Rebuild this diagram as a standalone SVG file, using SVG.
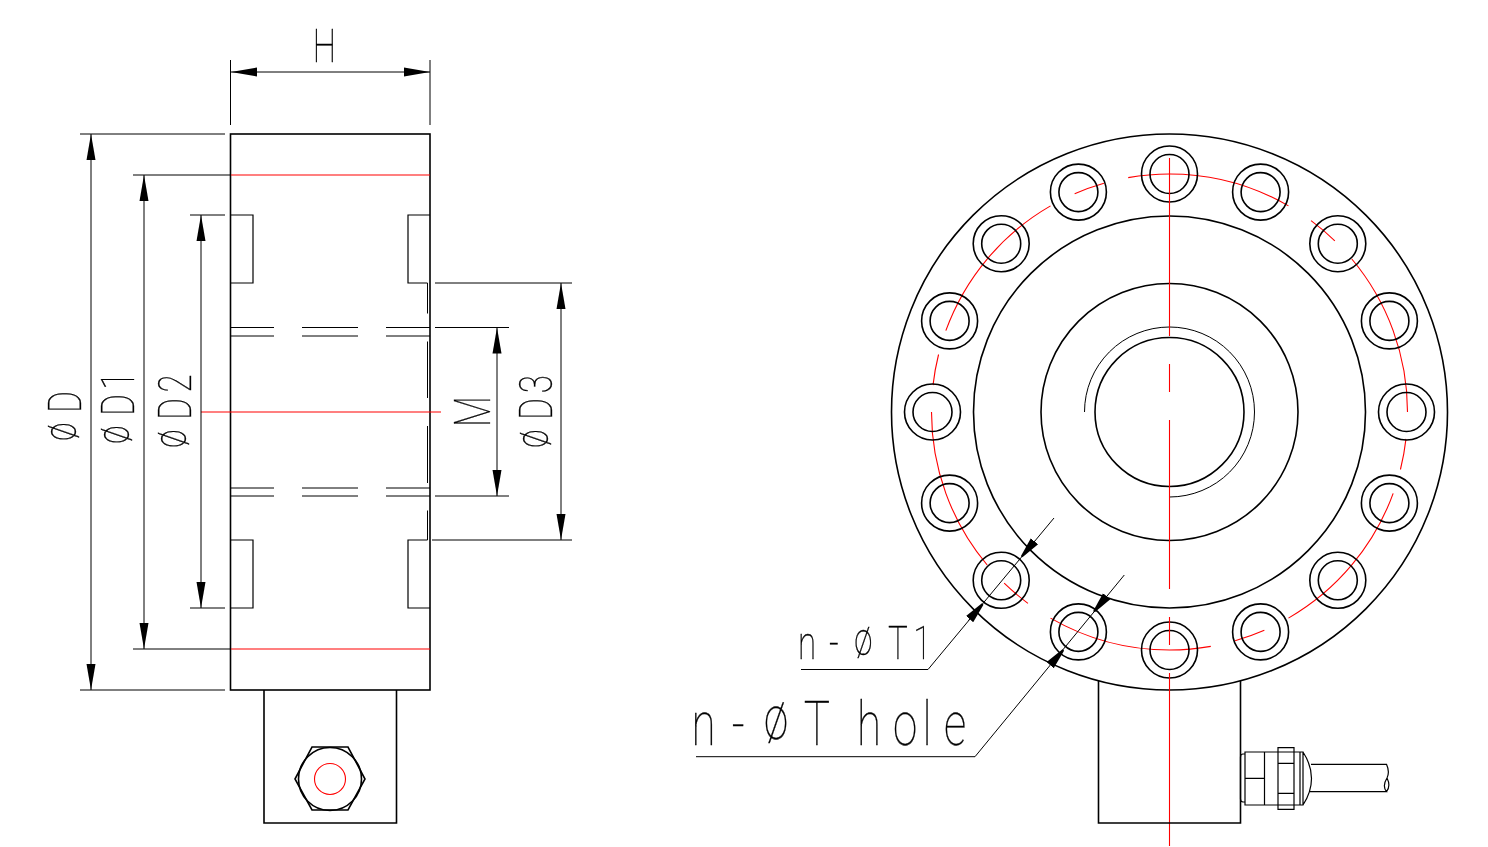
<svg xmlns="http://www.w3.org/2000/svg" width="1488" height="847" viewBox="0 0 1488 847">
<style>
.o{fill:none;stroke:#000;stroke-width:1.6}
.n{fill:none;stroke:#000;stroke-width:1.2}
.t{fill:none;stroke:#000;stroke-width:1}
.r{fill:none;stroke:#f00;stroke-width:1.1}
.d{fill:none;stroke:#000;stroke-width:1;marker-start:url(#a);marker-end:url(#a)}
.l{fill:none;stroke:#000;stroke-width:1}
.x{fill:none;stroke:#000;stroke-width:1;marker-end:url(#b)}
text{font-family:Roboto,"Liberation Sans",sans-serif;font-weight:100;fill:#000;stroke:#000;stroke-width:.35}
</style>
<defs>
<marker id="a" markerUnits="userSpaceOnUse" markerWidth="28" markerHeight="10" refX="26" refY="5" orient="auto-start-reverse" viewBox="0 0 28 10"><path d="M0 .5 L26 5 L0 9.500Z"/></marker>
<marker id="b" markerUnits="userSpaceOnUse" markerWidth="22" markerHeight="12" refX="20" refY="6" orient="auto" viewBox="0 0 22 12"><path d="M0 1.300 L0 10.700 L20 7 L20 5Z"/></marker>
<g id="hole"><circle r="28" class="o"/><circle r="19.500" class="o"/></g>
</defs>
<g id="side-view">
<rect x="230.500" y="134" width="199.500" height="556" class="o"/>
<path class="r" d="M231 175H430M231 649H430M201 412H441"/>
<path class="n" d="M231 215H253V283H231M231 540H253V608H231M430 215H408V283H427.500M427.500 540H408V608H430"/>
<path class="t" d="M427.500 283V313.500M427.500 341.500V398M427.500 426V483M427.500 510.500V540M231 327.500H274M302 327.500H358M386 327.500H430M231 336H274M302 336H358M386 336H430M231 488H274M302 488H358M386 488H430M231 496H274M302 496H358M386 496H430"/>
</g>
<g id="side-box">
<path class="o" d="M264 690V823H396.500V690"/>
<polygon class="o" points="295,779 312,747 348,747 365,779 348,810 312,810"/>
<circle cx="330" cy="779" r="31.500" class="o"/>
<circle cx="330" cy="779" r="15.500" class="r"/>
</g>
<g id="front-view">
<circle cx="1169.500" cy="412" r="278" class="o"/>
<circle cx="1169.500" cy="412" r="196" class="o"/>
<circle cx="1169.500" cy="412" r="128.500" class="o"/>
<circle cx="1169.500" cy="412" r="74.500" class="o"/>
<path class="t" d="M1084.500 412A85 85 0 1 1 1169.500 497"/>
<circle cx="1169.500" cy="412" r="238" pathLength="360" stroke-dasharray="40 6.500 7.500 6" stroke-dashoffset="40" class="r"/>
<use href="#hole" x="1169.500" y="174"/>
<use href="#hole" x="1260.600" y="192.100"/>
<use href="#hole" x="1337.800" y="243.700"/>
<use href="#hole" x="1389.400" y="320.900"/>
<use href="#hole" x="1406.500" y="412"/>
<use href="#hole" x="1389.400" y="503.100"/>
<use href="#hole" x="1337.800" y="580.300"/>
<use href="#hole" x="1260.600" y="631.900"/>
<use href="#hole" x="1169.500" y="650"/>
<use href="#hole" x="1078.400" y="631.900"/>
<use href="#hole" x="1001.200" y="580.300"/>
<use href="#hole" x="949.600" y="503.100"/>
<use href="#hole" x="932.500" y="412"/>
<use href="#hole" x="949.600" y="320.900"/>
<use href="#hole" x="1001.200" y="243.700"/>
<use href="#hole" x="1078.400" y="192.100"/>
<path class="r" d="M1169.500 158V336M1169.500 364V392M1169.500 420V589M1169.500 617V645M1169.500 673V846"/>
</g>
<g id="stem">
<path class="o" d="M1098.500 681V823H1240.500V681"/>
</g>
<g id="cable-gland">
<path class="n" d="M1245 754H1243Q1240.500 754 1240.500 757V799Q1240.500 802 1243 802H1245"/>
<path class="n" d="M1245 752H1303V805H1245ZM1264.500 752V805M1245 778.300H1264.500M1278 747.700H1294V809.300H1278ZM1278 763.300H1294M1278 793.300H1294M1300 752V805M1303 752Q1311.500 765 1311.500 778.500Q1311.500 792 1303 805M1311 764.300H1386.500Q1390 772 1387 778Q1382 786 1386.500 791.700H1310M1386.500 791.700Q1391 786 1387 778"/>
</g>
<g id="connectors">
<path class="d" d="M231 72H430"/>
<path class="d" d="M91 134V690"/>
<path class="d" d="M144 175V649"/>
<path class="d" d="M201 215V608"/>
<path class="d" d="M497 327.500V496"/>
<path class="d" d="M561 283V540"/>
<path class="l" d="M230.500 60V125M430 60V125M80 134H225M80 690H225M133 175H231M133 649H231M190 215H225M190 608H225M435 283H572M432 540H572M435 327.500H509M435 496H509"/>
<path class="l" d="M801 669.500H928L1054 518"/>
<path class="l" d="M696 756.700H975L1124.300 575"/>
<path class="x" d="M968.300 620.700L982.700 604"/>
<path class="x" d="M1035 540.700L1021.700 556.700"/>
<path class="x" d="M1051.700 663.300L1063.300 650"/>
<path class="x" d="M1105 598.300L1094 611.700"/>
</g>
<g id="labels" opacity=".999">
<text transform="translate(335,62) scale(.72,1)" x="-31" font-size="46">H</text>
<text transform="translate(80.700,443) rotate(-90) scale(.72,1)" x="3 42" y="-4.500 0" font-size="46">øD</text>
<text transform="translate(133.700,446) rotate(-90) scale(.72,1)" x="3 42 78" y="-4.500 0 0" font-size="46">øD1</text>
<text transform="translate(190.700,450) rotate(-90) scale(.72,1)" x="3 42 80" y="-4.500 0 0" font-size="46">øD2</text>
<text transform="translate(490,424) rotate(-90) scale(.72,1)" x="-4" font-size="50">M</text>
<text transform="translate(552,450) rotate(-90) scale(.72,1)" x="3 42 79" y="-4.500 0 0" font-size="46">øD3</text>
<text transform="translate(801,659.300) scale(.72,1)" x="-4 39 74 121 156" y="0 0 -4.500 0 0" font-size="46">n-øT1</text>
<text transform="translate(695,745.300) scale(.72,1)" x="-5 51 96 151 200 225 275 316 346" y="0 0 -6 0 0 0 0 0 0" font-size="61">n-øT hole</text>
</g>
</svg>
